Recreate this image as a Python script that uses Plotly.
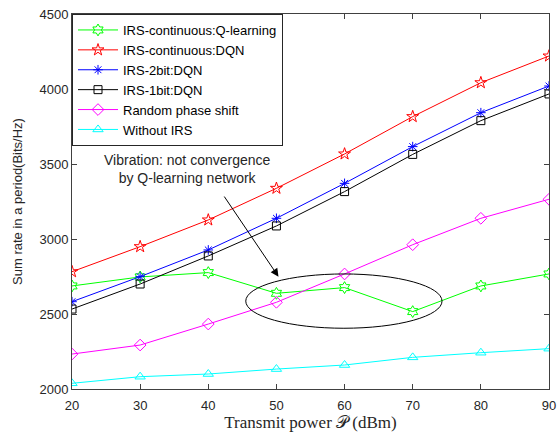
import plotly.graph_objects as go

power = [20, 30, 40, 50, 60, 70, 80, 90]
q_cont = [2687, 2747, 2776, 2638, 2676, 2516, 2687, 2767]
dqn_cont = [2782, 2949, 3127, 3338, 3567, 3816, 4042, 4220]
dqn_2bit = [2582, 2749, 2927, 3138, 3371, 3616, 3842, 4020]
dqn_1bit = [2533, 2700, 2887, 3087, 3316, 3564, 3789, 3967]
random_ps = [2233, 2293, 2433, 2578, 2767, 2962, 3138, 3265]
no_irs = [2038, 2082, 2100, 2133, 2160, 2211, 2242, 2269]
y_ticks = [2000, 2500, 3000, 3500, 4000, 4500]

series = [
    ("IRS-continuous:Q-learning", q_cont, "#00ff00", "hexagram-open", 9),
    ("IRS-continuous:DQN", dqn_cont, "#ff0000", "star-open", 9),
    ("IRS-2bit:DQN", dqn_2bit, "#0000ff", "asterisk-open", 8),
    ("IRS-1bit:DQN", dqn_1bit, "#000000", "square-open", 8),
    ("Random phase shift", random_ps, "#ff00ff", "diamond-open", 9),
    ("Without IRS", no_irs, "#00ffff", "triangle-up-open", 9),
]

fig = go.Figure()
for name, vals, color, sym, msize in series:
    fig.add_trace(go.Scatter(
        x=power, y=vals, name=name, mode="lines+markers",
        line=dict(color=color, width=1),
        marker=dict(symbol=sym, size=msize, color=color, line=dict(color=color, width=1)),
    ))

axis_common = dict(
    showgrid=False, zeroline=False, showline=True, mirror="ticks",
    linecolor="#404040", linewidth=1, ticks="inside", ticklen=5, automargin=False,
    ticklabeloverflow="allow",
    tickcolor="#404040", tickfont=dict(family="Liberation Sans, Arial", size=13, color="#262626"),
)

fig.update_layout(
    width=559, height=432,
    margin=dict(l=72, r=10, t=14, b=43),
    paper_bgcolor="white", plot_bgcolor="white",
    xaxis=dict(range=[20, 90], tickvals=power, ticklabelstandoff=4, **axis_common,
               title=dict(text="Transmit power 𝒫 (dBm)", standoff=7,
                          font=dict(family="Liberation Serif, Times New Roman", size=17, color="#262626"))),
    yaxis=dict(range=[2000, 4500], tickvals=y_ticks, **axis_common,
               title=dict(text="Sum rate in a period(Bits/Hz)", standoff=13,
                          font=dict(family="Liberation Sans, Arial", size=13, color="#262626"))),
    legend=dict(x=0, y=1, xanchor="left", yanchor="top",
                bgcolor="white", bordercolor="#262626", borderwidth=1,
                font=dict(family="Liberation Sans, Arial", size=13, color="#000000"),
                tracegroupgap=0, itemwidth=40),
    showlegend=True,
)

fig.add_shape(type="circle", xref="x", yref="y", x0=45.5, x1=74.3, y0=2405, y1=2767,
              line=dict(color="black", width=1))

fig.add_annotation(x=50.3, y=2749, ax=42.2, ay=3293, xref="x", yref="y", axref="x", ayref="y",
                   showarrow=True, arrowhead=2, arrowsize=1.6, arrowwidth=1, arrowcolor="black", text="")
fig.add_annotation(x=36.9, y=3467, xref="x", yref="y", showarrow=False,
                   text="Vibration: not convergence<br>by Q-learning network",
                   font=dict(family="Liberation Sans, Arial", size=14, color="#262626"))

# remove the browser's default 8px body margin so the figure sits at the page origin
fig.write_html("out.html", config={"displayModeBar": False},
               post_script="document.body.style.margin='0';document.body.style.overflow='hidden';")
